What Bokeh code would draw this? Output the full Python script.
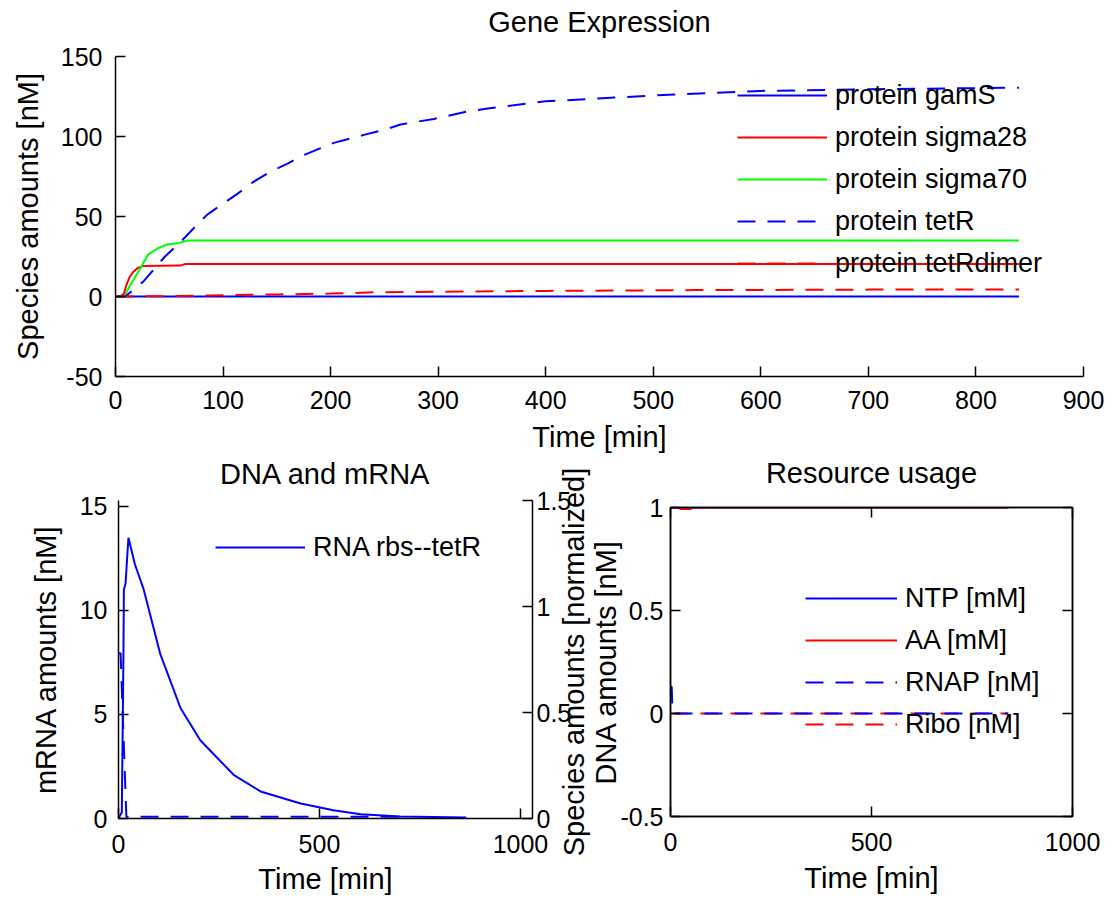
import math
from bokeh.plotting import figure
from bokeh.models import Range1d, LinearAxis, Legend, LegendItem, FixedTicker, Title
from bokeh.layouts import column, row
from bokeh.embed import file_html
from bokeh.resources import INLINE

FONT = "Liberation Sans"
BLUE, RED, GREEN = "#0000ff", "#ff0000", "#00ff00"
DASH = "18 12"

# ---------------- data: Gene Expression ----------------
t_gamS = [0, 840]
gamS = [0, 0]
t_sig28 = [0, 5, 8, 10, 13, 16, 20, 25, 60, 65, 840]
sig28 = [0, 0, 2, 7, 12, 15, 17.5, 19, 19.3, 20.3, 20.3]
t_sig70 = [0, 8, 14, 23, 30, 39, 48, 59, 67, 840]
sig70 = [0, 0, 7.5, 17.5, 26, 30, 32.5, 33.5, 35, 35]
t_tetR = [0, 9, 26, 46, 59, 76, 85, 102, 113, 129, 144, 160, 172, 188, 203,
          231, 249, 265, 296, 327, 346, 400, 500, 600, 700, 840]
tetR = [0, 0, 9.4, 25, 33, 45, 51, 59, 64, 72, 78, 83, 87.5, 92, 96,
        101, 104, 107.5, 111, 115.6, 117.5, 122, 125.6, 128.5, 129.5, 130.5]
t_dimer = [0, 50, 100, 150, 200, 240, 300, 400, 540, 700, 840]
dimer = [0, 0.2, 0.8, 1.3, 1.8, 2.6, 3.0, 3.5, 4.0, 4.3, 4.4]
gene_labels = ["protein gamS", "protein sigma28", "protein sigma70",
               "protein tetR", "protein tetRdimer"]
top_xticks = [0, 100, 200, 300, 400, 500, 600, 700, 800, 900]
top_xlabels = ["0", "100", "200", "300", "400", "500", "600", "700", "800", "900"]
top_yticks = [-50, 0, 50, 100, 150]
top_ylabels = ["-50", "0", "50", "100", "150"]

# ---------------- data: DNA and mRNA ----------------
t_mrna = [0, 8, 12, 13, 17, 24, 30, 40, 61, 101, 150, 198, 278, 343, 440,
          519, 585, 680, 840]
mrna = [0, 0.3, 8, 11, 11.3, 13.5, 13.0, 12.2, 11.0, 7.9, 5.3, 3.75, 2.1,
        1.3, 0.72, 0.4, 0.2, 0.1, 0.05]
t_dna = [0, 5, 19, 680]
dna = [0.78, 0.78, 0.008, 0.008]
mid_xticks = [0, 500, 1000]
mid_xlabels = ["0", "500", "1000"]
mid_yticks = [0, 5, 10, 15]
mid_ylabels = ["0", "5", "10", "15"]
mid_y2ticks = [0, 0.5, 1, 1.5]
mid_y2labels = ["0", "0.5", "1", "1.5"]

# ---------------- data: Resource usage ----------------
t_ntp = [0, 840]
ntp = [1, 1]
t_aa = [0, 20, 25, 50, 55, 840]
aa = [1, 1, 0.993, 0.993, 1, 1]
t_rnap = [0, 3, 5, 840]
rnap = [0.13, 0.13, 0, 0]
t_ribo = [0, 840]
ribo = [0, 0]
res_labels = ["NTP [mM]", "AA [mM]", "RNAP [nM]", "Ribo [nM]"]
res_xticks = [0, 500, 1000]
res_xlabels = ["0", "500", "1000"]
res_yticks = [-0.5, 0, 0.5, 1]
res_ylabels = ["-0.5", "0", "0.5", "1"]


def style_axis(ax, ticks, labels, standoff=10, lab_standoff=10, show_labels=True):
    ax.ticker = FixedTicker(ticks=ticks)
    ax.axis_line_color = "black"
    ax.axis_line_width = 1.5
    ax.major_tick_line_color = "black"
    ax.major_tick_line_width = 1.5
    ax.major_tick_in = 10
    ax.major_tick_out = 0
    ax.minor_tick_line_color = None
    ax.major_label_text_font = FONT
    ax.major_label_standoff = standoff
    if show_labels:
        ax.major_label_overrides = {t: l for t, l in zip(ticks, labels)}
        ax.major_label_text_font_size = "25px"
        ax.major_label_text_color = "black"
    else:
        ax.major_label_text_font_size = "0px"
        ax.major_label_text_color = None
        ax.major_label_standoff = 0
    ax.axis_label_text_font = FONT
    ax.axis_label_text_font_size = "29px"
    ax.axis_label_text_font_style = "normal"
    ax.axis_label_text_color = "black"
    ax.axis_label_standoff = lab_standoff


def style_title(t, standoff):
    t.text_font = FONT
    t.text_font_size = "29px"
    t.text_font_style = "normal"
    t.text_color = "black"
    t.align = "center"
    t.vertical_align = "bottom"
    t.standoff = standoff


def make_legend(items, loc, glyph_w):
    lg = Legend(items=items, location=loc)
    lg.padding = 0
    lg.margin = 0
    lg.spacing = 0
    lg.glyph_width = glyph_w
    lg.glyph_height = 42
    lg.label_height = 42
    lg.label_standoff = 8
    lg.background_fill_alpha = 0
    lg.border_line_alpha = 0
    lg.label_text_font = FONT
    lg.label_text_font_size = "27px"
    lg.label_text_color = "black"
    return lg


# ================= Top: Gene Expression =================
p1 = figure(width=1109, height=498, x_range=Range1d(0, 900), y_range=Range1d(-50, 150),
            output_backend="svg", toolbar_location=None, title="Gene Expression",
            min_border_left=115, min_border_right=26, min_border_top=88, min_border_bottom=90)
p1.margin = (-32, 0, 0, 0)
p1.grid.visible = False
p1.outline_line_color = None
style_title(p1.title, 38)
style_axis(p1.xaxis[0], top_xticks, top_xlabels, standoff=14, lab_standoff=9)
style_axis(p1.yaxis[0], top_yticks, top_ylabels, standoff=13, lab_standoff=14)
p1.xaxis[0].axis_label = "Time [min]"
p1.yaxis[0].axis_label = "Species amounts [nM]"

r1 = p1.line(t_gamS, gamS, line_color=BLUE, line_width=2)
r2 = p1.line(t_sig28, sig28, line_color=RED, line_width=2)
r3 = p1.line(t_sig70, sig70, line_color=GREEN, line_width=2)
r4 = p1.line(t_tetR, tetR, line_color=BLUE, line_width=2, line_dash=DASH)
r5 = p1.line(t_dimer, dimer, line_color=RED, line_width=2, line_dash=DASH)
items1 = [LegendItem(label=l, renderers=[r]) for l, r in zip(gene_labels, [r1, r2, r3, r4, r5])]
p1.add_layout(make_legend(items1, (622, 92), 90))

# ================= Bottom-left: DNA and mRNA =================
p2 = figure(width=592, height=479, x_range=Range1d(0, 1030), y_range=Range1d(0, 15.288),
            output_backend="svg", toolbar_location=None, title="DNA and mRNA",
            min_border_left=118, min_border_right=60, min_border_top=78, min_border_bottom=83)
p2.margin = (-14, 0, 0, 0)
p2.border_fill_color = None
p2.extra_x_ranges = {"t2": Range1d(0, 1000)}
p2.extra_y_ranges = {"dna": Range1d(0, 1.5)}
p2.grid.visible = False
p2.outline_line_color = None
style_title(p2.title, 22)
style_axis(p2.xaxis[0], mid_xticks, mid_xlabels, standoff=16)
style_axis(p2.yaxis[0], mid_yticks, mid_ylabels, standoff=11, lab_standoff=15)
p2.yaxis[0].axis_label = "mRNA amounts [nM]"
t_time2 = Title(text="Time [min]")
style_title(t_time2, 10)
p2.add_layout(t_time2, "below")
ax_r = LinearAxis(y_range_name="dna")
style_axis(ax_r, mid_y2ticks, mid_y2labels, standoff=4)
p2.add_layout(ax_r, "right")

m1 = p2.line(t_mrna, mrna, x_range_name="t2", line_color=BLUE, line_width=2)
p2.line(t_dna, dna, x_range_name="t2", y_range_name="dna", line_color=BLUE,
        line_width=2, line_dash=DASH)
p2.add_layout(make_legend([LegendItem(label="RNA rbs--tetR", renderers=[m1])], (97, 250), 90))

# ================= Bottom-right: Resource usage =================
p3 = figure(width=573, height=483, x_range=Range1d(0, 1000), y_range=Range1d(-0.5, 1),
            output_backend="svg", toolbar_location=None, title="Resource usage",
            min_border_left=134, min_border_right=37, min_border_top=89, min_border_bottom=85)
p3.margin = (-18, 0, 0, 0)
p3.border_fill_color = None
p3.grid.visible = False
p3.outline_line_color = "black"
p3.outline_line_width = 1.5
style_title(p3.title, 38)
style_axis(p3.xaxis[0], res_xticks, res_xlabels, standoff=16)
style_axis(p3.yaxis[0], res_yticks, res_ylabels, standoff=7, lab_standoff=-5)
p3.yaxis[0].axis_label = "DNA amounts [nM]"
t_time3 = Title(text="Time [min]")
style_title(t_time3, 12)
p3.add_layout(t_time3, "below")
ax_t = LinearAxis()
style_axis(ax_t, res_xticks, res_xlabels, show_labels=False)
p3.add_layout(ax_t, "above")
ax_rr = LinearAxis()
style_axis(ax_rr, res_yticks, res_ylabels, show_labels=False)
p3.add_layout(ax_rr, "right")
t_species = Title(text="Species amounts [normalized]")
style_title(t_species, -4)
p3.add_layout(t_species, "left")

q1 = p3.line(t_ntp, ntp, line_color=BLUE, line_width=2)
q2 = p3.line(t_aa, aa, line_color=RED, line_width=2)
q4 = p3.line(t_ribo, ribo, line_color=RED, line_width=2, line_dash=DASH)
q3 = p3.line(t_rnap, rnap, line_color=BLUE, line_width=2, line_dash=DASH)
items3 = [LegendItem(label=l, renderers=[r]) for l, r in zip(res_labels, [q1, q2, q3, q4])]
p3.add_layout(make_legend(items3, (135, 71), 92))

col2 = column(p2)
col3 = column(p3)
col3.margin = (0, 0, 0, -56)
bottom = row(col2, col3)
bottom.margin = (-30, 0, 0, 0)
layout = column(p1, bottom)
open("out.html", "w").write(file_html(layout, INLINE))
